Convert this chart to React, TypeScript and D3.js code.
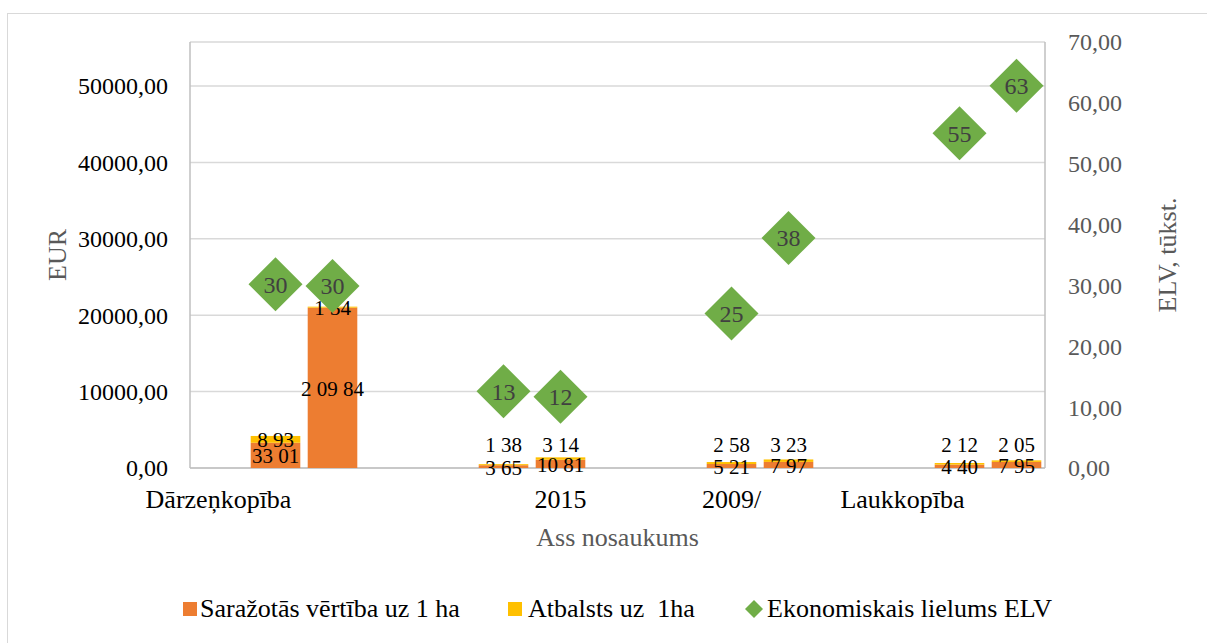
import React from "react";
import * as d3 from "d3";

// 15 category slots on the x axis; only some carry a label or a bar
const categoryLabels = ["Dārzeņkopība", "", "", "", "", "", "2015", "", "", "2009/", "", "", "Laukkopība", "", ""];
const sarazotas = [null, 3301, 20984, null, null, 365, 1081, null, null, 521, 797, null, null, 440, 795];
const atbalsts = [null, 893, 134, null, null, 138, 314, null, null, 258, 323, null, null, 212, 205];
const elv = [null, 30.2, 29.9, null, null, 12.6, 11.7, null, null, 25.4, 37.8, null, null, 55.0, 62.8];

const leftTicks = [0, 10000, 20000, 30000, 40000, 50000];
const rightTicks = [0, 10, 20, 30, 40, 50, 60, 70];

const seriesNames = ["Saražotās vērtība uz 1 ha", "Atbalsts uz  1ha", "Ekonomiskais lielums ELV"];
const colors = { orange: "#ED7D31", yellow: "#FFC000", green: "#70AD47" };

const W = 1207;
const H = 643;
const margin = { top: 42, right: 162, bottom: 175, left: 190 };
const FONT = "'Liberation Serif', 'Times New Roman', serif";

// 3301 -> "33 01", 20984 -> "2 09 84"
const pairFormat = (v: number) => {
  let s = String(Math.round(v));
  const parts: string[] = [];
  while (s.length > 2) {
    parts.unshift(s.slice(-2));
    s = s.slice(0, -2);
  }
  parts.unshift(s);
  return parts.join(" ");
};
const commaFormat = (v: number) => d3.format(".2f")(v).replace(".", ",");
// keep doubled spaces visible in svg text
const keepSpaces = (s: string) => s.replace(/ {2}/g, "\u00a0 ");

export default function App() {
  const innerW = W - margin.left - margin.right;
  const innerH = H - margin.top - margin.bottom;

  const x = d3.scaleBand<number>()
    .domain(categoryLabels.map((_, i) => i))
    .range([0, innerW])
    .paddingInner(0.13)
    .paddingOuter(0.065);
  const yLeft = d3.scaleLinear().domain([0, 55759]).range([innerH, 0]);
  const yRight = d3.scaleLinear().domain([0, 70]).range([innerH, 0]);

  const rows = categoryLabels.map((_, i) => ({
    i,
    sar: sarazotas[i] ?? 0,
    atb: atbalsts[i] ?? 0,
  }));
  const stacked = d3.stack<any>().keys(["sar", "atb"])(rows);

  const diamond = (cx: number, cy: number, r: number) =>
    `M${cx},${cy - r}L${cx + r},${cy}L${cx},${cy + r}L${cx - r},${cy}Z`;

  return (
    <svg width={W} height={H} style={{ position: "absolute", left: 0, top: 0 }} fontFamily={FONT}>
      <rect x={0} y={0} width={W} height={H} fill="#fff" />
      <rect x={7.5} y={13.5} width={W + 20} height={H + 20} fill="none" stroke="#d9d9d9" />
      <g transform={`translate(${margin.left},${margin.top})`}>
        {leftTicks.map((t) => (
          <line key={t} x1={0} x2={innerW} y1={yLeft(t)} y2={yLeft(t)} stroke="#d9d9d9" strokeWidth={1.5} />
        ))}
        <line x1={0} x2={innerW} y1={0} y2={0} stroke="#d9d9d9" strokeWidth={1.5} />
        <line x1={0} x2={0} y1={0} y2={innerH} stroke="#bfbfbf" strokeWidth={1.5} />
        <line x1={innerW} x2={innerW} y1={0} y2={innerH} stroke="#bfbfbf" strokeWidth={1.5} />
        <line x1={0} x2={innerW} y1={innerH} y2={innerH} stroke="#bfbfbf" strokeWidth={1.5} />

        {/* stacked bars */}
        {stacked.map((layer, li) =>
          layer.map((d, i) =>
            d.data[layer.key] ? (
              <rect
                key={`${li}-${i}`}
                x={x(i)}
                width={x.bandwidth()}
                y={yLeft(d[1])}
                height={yLeft(d[0]) - yLeft(d[1])}
                fill={li === 0 ? colors.orange : colors.yellow}
              />
            ) : null
          )
        )}

        {/* bar labels */}
        {rows.map((r) => {
          if (!r.sar) return null;
          const cx = (x(r.i) ?? 0) + x.bandwidth() / 2;
          const ySar = (yLeft(0) + yLeft(r.sar)) / 2;
          const yAtb = Math.min((yLeft(r.sar) + yLeft(r.sar + r.atb)) / 2, innerH - 24);
          return (
            <g key={r.i} fontSize={21} textAnchor="middle" fill="#000">
              <text x={cx} y={ySar} dy="0.38em">{pairFormat(r.sar)}</text>
              <text x={cx} y={yAtb} dy="0.38em">{pairFormat(r.atb)}</text>
            </g>
          );
        })}

        {/* ELV diamonds */}
        {elv.map((v, i) => {
          if (v == null) return null;
          const cx = (x(i) ?? 0) + x.bandwidth() / 2;
          const cy = yRight(v);
          return (
            <g key={i}>
              <path d={diamond(cx, cy, 27)} fill={colors.green} />
              <text x={cx} y={cy} dy="0.35em" textAnchor="middle" fontSize={24} fill="#404040">
                {Math.round(v)}
              </text>
            </g>
          );
        })}

        {/* left axis */}
        {leftTicks.map((t) => (
          <text key={t} x={-22} y={yLeft(t)} dy="0.35em" textAnchor="end" fontSize={24} fill="#000">
            {commaFormat(t)}
          </text>
        ))}
        {/* right axis */}
        {rightTicks.map((t) => (
          <text key={t} x={innerW + 23} y={yRight(t)} dy="0.35em" textAnchor="start" fontSize={24} fill="#595959">
            {commaFormat(t)}
          </text>
        ))}
        {/* category labels */}
        {categoryLabels.map((c, i) =>
          c ? (
            <text key={i} x={(x(i) ?? 0) + x.bandwidth() / 2} y={innerH + 40} textAnchor="middle" fontSize={26} fill="#000">
              {c}
            </text>
          ) : null
        )}
        <text x={innerW / 2} y={innerH + 78} textAnchor="middle" fontSize={26} fill="#595959">
          Ass nosaukums
        </text>
        <text transform={`translate(${-133},${innerH / 2}) rotate(-90)`} textAnchor="middle" dy="0.35em" fontSize={26} fill="#595959">
          EUR
        </text>
        <text transform={`translate(${innerW + 122},${innerH / 2}) rotate(-90)`} textAnchor="middle" dy="0.35em" fontSize={26} fill="#595959">
          ELV, tūkst.
        </text>
      </g>

      {/* legend */}
      <g fontSize={26} fill="#000">
        <rect x={183} y={602} width={14} height={14} fill={colors.orange} />
        <text x={200} y={617}>{keepSpaces(seriesNames[0])}</text>
        <rect x={508} y={602} width={14} height={14} fill={colors.yellow} />
        <text x={528} y={617}>{keepSpaces(seriesNames[1])}</text>
        <path d={diamond(754, 609, 9)} fill={colors.green} />
        <text x={767} y={617}>{keepSpaces(seriesNames[2])}</text>
      </g>
    </svg>
  );
}
